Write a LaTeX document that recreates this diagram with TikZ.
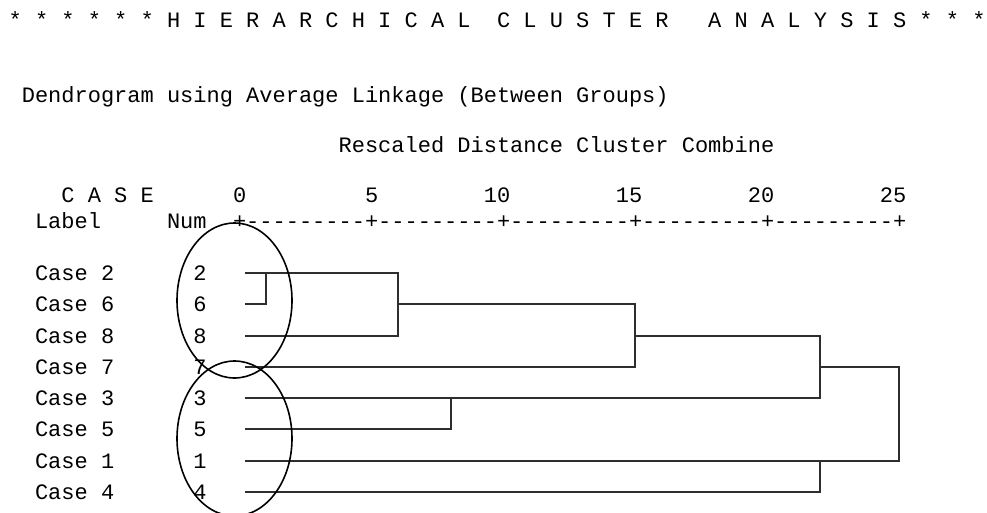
\documentclass[tikz,border=0pt]{standalone}
\usepackage{fontspec}
\setmonofont{Liberation Mono}
\newcommand{\rd}{-\kern0pt}
\newcommand{\rseg}{\rd\rd\rd\rd\rd\rd\rd\rd\rd+\kern0pt}
\begin{document}
\begin{tikzpicture}[x=1pt,y=-1pt]
\tikzset{
  txt/.style={anchor=base west, inner sep=0pt, outer sep=0pt, font=\ttfamily\fontsize{22}{22}\selectfont, text=black},
  link/.style={draw=black!82, line width=1.5pt, line cap=rect},
  ring/.style={draw=black, line width=1.6pt},
}
\useasboundingbox (0,0) rectangle (987,513);
\clip (0,0) rectangle (987,513);
\fill[white] (0,0) rectangle (987,513);
% header texts
\node[txt] (title) at ({8.6+13.2*0},28) {*~*~*~*~*~*~H~I~E~R~A~R~C~H~I~C~A~L~~C~L~U~S~T~E~R~~~A~N~A~L~Y~S~I~S~*~*~*};
\node[txt] (dendro) at ({8.6+13.2*1},103) {Dendrogram using Average Linkage (Between Groups)};
\node[txt] (rescaled) at ({8.6+13.2*25},153) {Rescaled Distance Cluster Combine};
\node[txt] (case) at ({8.6+13.2*4},203) {C~A~S~E};
\node[txt] (label) at ({8.6+13.2*2},228) {Label};
\node[txt] (num) at ({8.6+13.2*12},228) {Num};
% axis numbers
\node[txt] (t0) at ({8.6+13.2*17},203) {0};
\node[txt] (t5) at ({8.6+13.2*27},203) {5};
\node[txt] (t10) at ({8.6+13.2*36},203) {10};
\node[txt] (t15) at ({8.6+13.2*46},203) {15};
\node[txt] (t20) at ({8.6+13.2*56},203) {20};
\node[txt] (t25) at ({8.6+13.2*66},203) {25};
% axis ruler
\node[txt] (ruler) at ({8.6+13.2*17},228) {+\kern0pt\rseg\rseg\rseg\rseg\rseg};
% rows
\foreach \n/\yy in {2/273,6/304,8/336,7/367,3/398,5/429,1/461,4/492} {
  \node[txt] (lab\n) at ({8.6+13.2*2},{\yy+7}) {Case \n};
  \node[txt] (num\n) at ({8.6+13.2*14},{\yy+7}) {\n};
  \coordinate (s\n) at (246,\yy);
}
% merge levels
\coordinate (v266) at (266,0);
\coordinate (v398) at (398,0);
\coordinate (v451) at (451,0);
\coordinate (v635) at (635,0);
\coordinate (v820) at (820,0);
\coordinate (v899) at (899,0);
% dendrogram
\draw[link] (s2) -- (s2 -| v398) -- (s8 -| v398) -- (s8);
\draw[link] (s6) -- (s6 -| v266) -- (s2 -| v266);
\draw[link] (s6 -| v398) -- (s6 -| v635) -- (s7 -| v635) -- (s7);
\draw[link] (s8 -| v635) -- (s8 -| v820) -- (s3 -| v820) -- (s3);
\draw[link] (s5) -- (s5 -| v451) -- (s3 -| v451);
\draw[link] (s7 -| v820) -- (s7 -| v899) -- (s1 -| v899) -- (s1);
\draw[link] (s4) -- (s4 -| v820) -- (s1 -| v820);
% circles
\draw[ring] (234.5,300.5) ellipse [x radius=57.5, y radius=77.5];
\draw[ring] (234.5,438.5) ellipse [x radius=57.5, y radius=77.5];
\end{tikzpicture}
\end{document}
